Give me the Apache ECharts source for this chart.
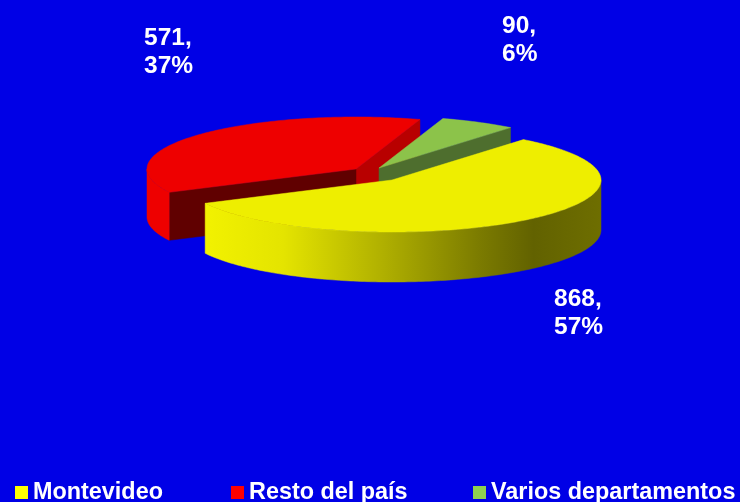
<!DOCTYPE html>
<html><head><meta charset="utf-8">
<style>html,body{margin:0;padding:0;background:#0000e6}#c{width:740px;height:502px}</style>
<script src="https://cdn.jsdelivr.net/npm/echarts@6/dist/echarts.min.js"></script>
</head><body><div id="c"></div>
<script>
const categories = ['Montevideo', 'Resto del país', 'Varios departamentos'];
const values = [868, 571, 90];

// Layout and style, not data
const FONT = '"Liberation Sans", Arial, sans-serif';
const START_ANGLE = -51, RX = 209, RY = 52;
const centers = [[392, 180, 50], [356, 169, 48], [379, 168, 40]];
const topColors = ['#eeee00', '#ee0000', '#8cc34a'];
const legendColors = ['#ffff00', '#ff0000', '#8fd14f'];
const cutColors = [null, ['#600000', '#b80000'], [null, '#4e6e2e']];
const labelPos = [[554, 285], [144, 24], [502, 12]];
const legendLeft = [15, 231, 473];
const drawOrder = [1, 2, 0];

const total = values.reduce((a, b) => a + b, 0);
const rad = d => d * Math.PI / 180;

function sliceAngles(i) {
  let a = START_ANGLE;
  for (let k = 0; k < i; k++) a += values[k] / total * 360;
  return [a, a + values[i] / total * 360];
}
function rim(c, deg, dy) {
  return [c[0] + RX * Math.cos(rad(deg)), c[1] + dy + RY * Math.sin(rad(deg))];
}
function arc(c, a0, a1, dy) {
  const pts = [], n = Math.max(2, Math.ceil(Math.abs(a1 - a0)));
  for (let k = 0; k <= n; k++) pts.push(rim(c, a0 + (a1 - a0) * k / n, dy));
  return pts;
}
function poly(points, fill) {
  return { type: 'polygon', shape: { points }, style: { fill, stroke: fill, lineWidth: 0.5 } };
}
function cutFace(c, deg, fill) {
  const p = rim(c, deg, 0), d = c[2];
  return poly([[c[0], c[1]], p, [p[0], p[1] + d], [c[0], c[1] + d]], fill);
}
function frontWall(c, a0, a1, fill) {
  const ranges = [[Math.max(a0, 0), Math.min(a1, 180)], [Math.max(a0, 360), Math.min(a1, 540)]];
  const out = [];
  ranges.forEach(([s, e]) => {
    if (e > s) out.push(poly(arc(c, s, e, 0).concat(arc(c, e, s, c[2])), fill));
  });
  return out;
}

function renderSlice(i) {
  return function (params, api) {
    const v = api.value(0);
    const c = centers[i];
    const [a0, a1] = sliceAngles(i);
    const children = [];
    if (i === 0) {
      const grad = new echarts.graphic.LinearGradient(204, 0, 601, 0, [
        { offset: 0, color: '#f2f200' },
        { offset: 0.2, color: '#e4e400' },
        { offset: 0.45, color: '#b0b000' },
        { offset: 0.7, color: '#7a7a00' },
        { offset: 0.83, color: '#626200' },
        { offset: 1, color: '#6e6e00' }
      ], true);
      children.push(...frontWall(c, a0, a1, grad));
    } else {
      const cuts = cutColors[i];
      if (cuts[1]) children.push(cutFace(c, a1, cuts[1]));
      if (cuts[0]) children.push(cutFace(c, a0, cuts[0]));
      children.push(...frontWall(c, a0, a1, topColors[i]));
    }
    children.push(poly([[c[0], c[1]]].concat(arc(c, a0, a1, 0)), topColors[i]));
    const pct = Math.round(v / total * 100);
    children.push({
      type: 'text', x: labelPos[i][0], y: labelPos[i][1],
      style: { text: v + ',\n' + pct + '%', fill: '#ffffff', font: 'bold 24.5px ' + FONT, lineHeight: 28, textAlign: 'left', textVerticalAlign: 'top' }
    });
    return { type: 'group', children };
  };
}

const chart = echarts.init(document.getElementById('c'), null, { renderer: 'canvas', width: 740, height: 502 });
chart.setOption({
  backgroundColor: '#0000e6',
  animation: false,
  tooltip: { show: false },
  legend: categories.map((name, i) => ({
    data: [{ name, itemStyle: { color: legendColors[i] } }],
    left: legendLeft[i], top: 481,
    orient: 'horizontal', padding: 0,
    icon: 'rect', itemWidth: 13, itemHeight: 13, itemGap: 0,
    selectedMode: false,
    textStyle: { color: '#ffffff', fontFamily: FONT, fontWeight: 'bold', fontSize: 23.4, padding: [0, 0, 0, 0] }
  })),
  series: drawOrder.map((i, order) => ({
    type: 'custom',
    name: categories[i],
    coordinateSystem: 'none',
    silent: true,
    z: order + 2,
    itemStyle: { color: legendColors[i] },
    data: [[values[i]]],
    encode: { value: 0 },
    renderItem: renderSlice(i)
  }))
});
</script></body></html>
